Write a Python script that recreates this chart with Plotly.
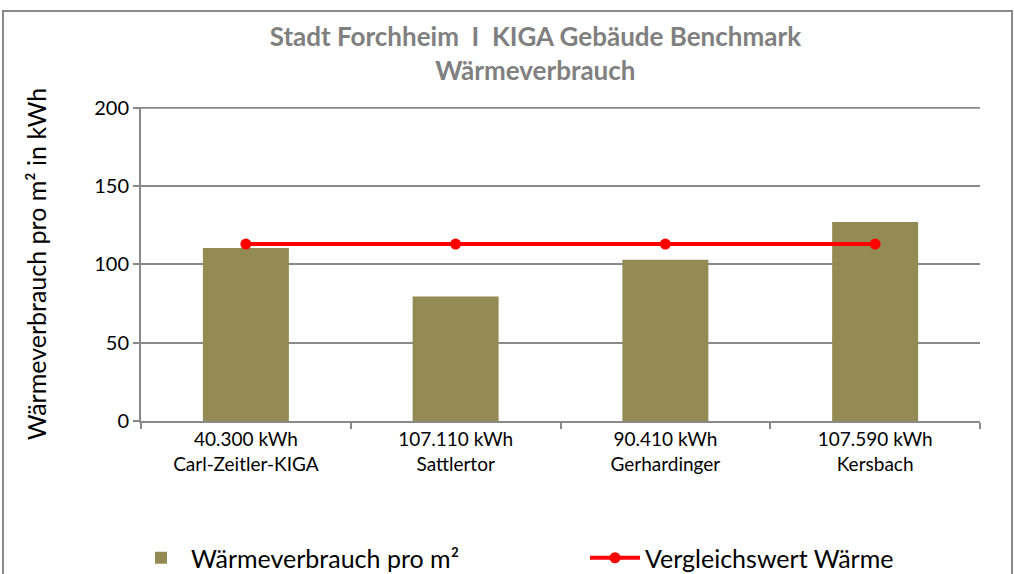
import plotly.graph_objects as go

categories = ["Carl-Zeitler-KIGA", "Sattlertor", "Gerhardinger", "Kersbach"]
total_kwh = ["40.300 kWh", "107.110 kWh", "90.410 kWh", "107.590 kWh"]
verbrauch_pro_m2 = [110.5, 79.5, 103, 127]
vergleichswert = [113, 113, 113, 113]
y_max = 200

tick_text = [f"{k}<br>{c}" for k, c in zip(total_kwh, categories)]
FONT = "Lato, Open Sans, sans-serif"
GRID = "#898989"

fig = go.Figure()
fig.add_trace(go.Bar(
    x=categories, y=verbrauch_pro_m2, name="Wärmeverbrauch pro m²",
    marker=dict(color="#948A54", line=dict(width=0)),
    legend="legend",
))
fig.add_trace(go.Scatter(
    x=categories, y=vergleichswert, name="Vergleichswert Wärme",
    mode="lines+markers", line=dict(color="#FF0000", width=4),
    marker=dict(color="#FF0000", size=11),
    legend="legend2",
))

leg_common = dict(
    orientation="h", yref="container", y=1 - 558 / 574, yanchor="middle",
    xref="container", xanchor="left",
    font=dict(size=25, family=FONT, color="black"),
    bgcolor="rgba(0,0,0,0)", itemwidth=50,
)

fig.update_layout(
    width=1014, height=574,
    margin=dict(l=141, r=34, t=107, b=153, autoexpand=False),
    paper_bgcolor="white", plot_bgcolor="white",
    font=dict(family=FONT, color="black"),
    bargap=0.59,
    title=dict(
        text="<b>Stadt Forchheim  I  KIGA Gebäude Benchmark<br>Wärmeverbrauch</b>",
        x=0.528, xanchor="center", yref="container", y=1 - 46 / 574, yanchor="middle",
        font=dict(size=26, color="#808080", family=FONT),
    ),
    showlegend=True,
    legend=dict(x=131 / 1014, **leg_common),
    legend2=dict(x=585 / 1014, **leg_common),
    shapes=[
        dict(
            type="rect", xref="paper", yref="paper",
            x0=(3 - 141) / 839, x1=(1012 - 141) / 839, y0=-0.6, y1=(421 - 11) / 314,
            line=dict(color=GRID, width=2), layer="below",
        ),
        dict(
            type="line", xref="paper", yref="y", x0=0, x1=1, y0=y_max, y1=y_max,
            line=dict(color=GRID, width=2), layer="below",
        ),
    ],
)
fig.update_xaxes(
    tickvals=categories, ticktext=tick_text,
    tickfont=dict(size=19, family=FONT),
    showline=True, linecolor=GRID, linewidth=2,
    ticks="outside", tickson="boundaries", ticklen=6, tickcolor=GRID, tickwidth=2,
    showgrid=False,
)
fig.update_yaxes(
    range=[0, y_max + 0.5], tickvals=[0, 50, 100, 150, 200],
    tickfont=dict(size=20, family=FONT),
    showline=True, linecolor=GRID, linewidth=2,
    ticks="outside", ticklen=6, tickcolor=GRID, tickwidth=2,
    showgrid=True, gridcolor=GRID, gridwidth=2,
    zeroline=False,
    title=dict(text="Wärmeverbrauch pro m² in kWh", font=dict(size=25, family=FONT), standoff=40),
)

fig.write_html(
    "out.html",
    config={"displayModeBar": False},
    post_script="document.body.style.margin='0';",
)
